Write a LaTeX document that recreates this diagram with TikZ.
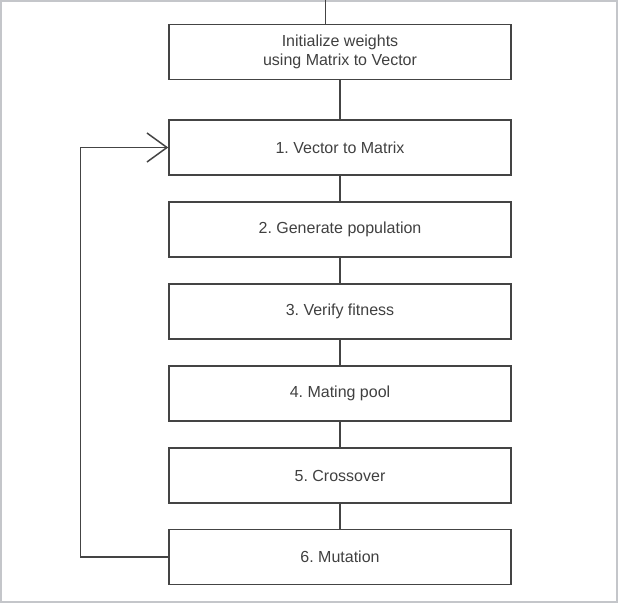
\documentclass[tikz,border=0pt]{standalone}
\usepackage{fontspec}
\setmainfont{Liberation Sans}
\usetikzlibrary{arrows.meta}
\definecolor{boxline}{HTML}{444444}
\definecolor{boxtext}{HTML}{404040}
\definecolor{frameline}{HTML}{C4C6CA}
\frenchspacing

\begin{document}
\begin{tikzpicture}[x=1pt, y=-1pt,
    stepbox/.style={draw=boxline, line width=1.5pt, text=boxtext, minimum width=342pt, minimum height=55pt, align=center, inner sep=0pt, font=\fontsize{16}{19}\selectfont},
    link/.style={draw=boxline, line width=1.5pt}]
          \useasboundingbox (0,0) rectangle (618,604);
          \draw[frameline, line width=2pt] (1,1) rectangle (617,602);

          \node[stepbox] (Init) at (340,52) {Initialize weights\\using Matrix to Vector};
          \node[stepbox] (VecMat) at (340,147.5) {1. Vector to Matrix};
          \node[stepbox] (Population) at (340,229.5) {2. Generate population};
          \node[stepbox] (Fitness) at (340,311.5) {3. Verify fitness};
          \node[stepbox] (Pool) at (340,393.5) {4. Mating pool};
          \node[stepbox] (Crossover) at (340,475.5) {5. Crossover};
          \node[stepbox] (Mutation) at (340,557) {6. Mutation};

          \coordinate (Entry) at (325.6,0);
          \coordinate (Back) at (80.4,0);

          \draw[link] (Entry) to (Entry |- Init.north);
          \draw[link] (Init) to (VecMat);
          \draw[link] (VecMat) to (Population);
          \draw[link] (Population) to (Fitness);
          \draw[link] (Fitness) to (Pool);
          \draw[link] (Pool) to (Crossover);
          \draw[link] (Crossover) to (Mutation);
          \draw[link, -{Straight Barb[length=20pt,width=29pt]}] (Mutation.west) -- (Back |- Mutation.west) -- (Back |- VecMat.west) -- (VecMat.west);
        \end{tikzpicture}
\end{document}
